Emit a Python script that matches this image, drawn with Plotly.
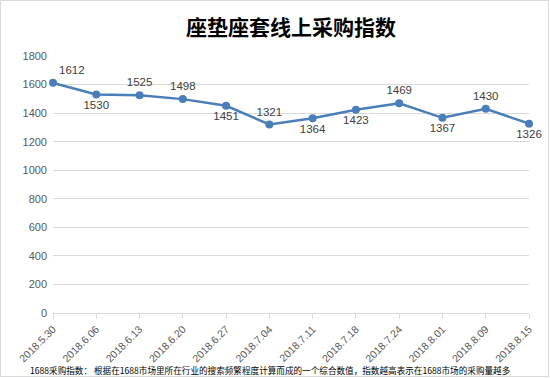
import plotly.graph_objects as go

dates = ["2018.5.30", "2018.6.06", "2018.6.13", "2018.6.20", "2018.6.27", "2018.7.04",
         "2018.7.11", "2018.7.18", "2018.7.24", "2018.8.01", "2018.8.09", "2018.8.15"]
values = [1612, 1530, 1525, 1498, 1451, 1321, 1364, 1423, 1469, 1367, 1430, 1326]
label_pos = ["top right", "bottom center", "top center", "top center", "bottom center", "top center",
             "bottom center", "bottom center", "top center", "bottom center", "top center", "bottom center"]
y_ticks = [0, 200, 400, 600, 800, 1000, 1200, 1400, 1600, 1800]

title = "座垫座套线上采购指数"
footnote = "1688采购指数： 根据在1688市场里所在行业的搜索频繁程度计算而成的一个综合数值，指数越高表示在1688市场的采购量越多"

W, H = 550, 378
L, R, T, B = 53, 21, 56, 65
pw, ph = W - L - R, H - T - B

fig = go.Figure()
fig.add_trace(go.Scatter(
    x=list(range(len(dates))), y=values, mode="lines+markers+text",
    text=[str(v) for v in values], textposition=label_pos,
    textfont=dict(family="Liberation Sans, Arial", size=11.5, color="#404040"),
    line=dict(color="#4A7EBB", width=2.5),
    marker=dict(color="#4A7EBB", size=8),
    cliponaxis=False, hoverinfo="x+y",
))

fig.update_layout(
    width=W, height=H, autosize=False,
    margin=dict(l=L, r=R, t=T, b=B, autoexpand=False),
    paper_bgcolor="white", plot_bgcolor="white",
    showlegend=False,
    title=dict(text="<b>" + title + "</b>", x=0.5, xref="paper", xanchor="center",
               y=1 - 28 / H, yref="container", yanchor="middle",
               font=dict(family="Noto Sans CJK SC", size=21, color="#000000")),
    xaxis=dict(
        range=[0, len(dates) - 1],
        tickmode="array", tickvals=list(range(len(dates))), ticktext=dates,
        tickangle=-45, ticks="outside", ticklen=5, tickcolor="#d9d9d9",
        showline=True, linecolor="#d9d9d9", linewidth=1,
        showgrid=False, zeroline=False,
        tickfont=dict(family="Liberation Sans, Arial", size=10.5, color="#595959"),
    ),
    yaxis=dict(
        range=[0, 1800], tickmode="array", tickvals=y_ticks,
        showgrid=True, gridcolor="#d9d9d9", gridwidth=1,
        zeroline=False, showline=False, ticks="", ticklabelstandoff=5,
        tickfont=dict(family="Liberation Sans, Arial", size=11, color="#595959"),
    ),
    annotations=[dict(
        text=footnote, xref="paper", yref="paper",
        x=(28 - L) / pw, y=-(370 - T - ph) / ph,
        xanchor="left", yanchor="middle", showarrow=False,
        font=dict(family="Noto Sans CJK SC", size=8.6, color="#000000"),
    )],
    shapes=[dict(
        type="rect", xref="paper", yref="paper",
        x0=-(L - 0.5) / pw, x1=1 + (R - 1.5) / pw,
        y0=-(B - 1.5) / ph, y1=1 + (T - 0.5) / ph,
        line=dict(color="#d9d9d9", width=1), fillcolor="rgba(0,0,0,0)", layer="below",
    )],
)

fig.write_html("out.html", config={"displayModeBar": False},
               post_script="document.body.style.margin='0';document.body.style.padding='0';")
